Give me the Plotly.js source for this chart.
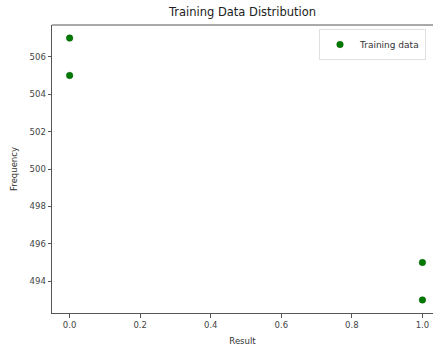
<!DOCTYPE html>
<html>
<head>
<meta charset="utf-8">
<script src="https://cdn.plot.ly/plotly-3.0.1.min.js"></script>
<style>html,body{margin:0;padding:0;background:#fff;}#chart{width:433px;height:347px;}</style>
</head>
<body>
<div id="chart"></div>
<script>
const resultValues = [0, 0, 1, 1];
const frequencyValues = [507, 505, 495, 493];
const seriesName = "Training data";
const yTicks = [494, 496, 498, 500, 502, 504, 506];
const xTicks = [0, 0.2, 0.4, 0.6, 0.8, 1.0];
const xTickLabels = ["0.0", "0.2", "0.4", "0.6", "0.8", "1.0"];

const font = "DejaVu Sans, sans-serif";
const trace = {
  x: resultValues,
  y: frequencyValues,
  mode: "markers",
  type: "scatter",
  name: seriesName,
  marker: {color: "#007a00", size: 6.5, line: {width: 0.5, color: "#005a00"}}
};
const layout = {
  width: 433, height: 347,
  margin: {l: 52, r: 0, t: 25, b: 34, pad: 0},
  paper_bgcolor: "#fff", plot_bgcolor: "#fff",
  font: {family: font, color: "#333", size: 8.5},
  title: {text: "Training Data Distribution", font: {family: font, size: 11.5, color: "#222"}, x: 0.5, xref: "paper", y: 0.965, yanchor: "middle"},
  showlegend: true,
  legend: {x: (319 - 52) / 381, xanchor: "left", y: 1 - 4 / 288, yanchor: "top",
           bgcolor: "rgba(255,255,255,0.8)", bordercolor: "#e0e0e0", borderwidth: 1,
           itemwidth: 30, tracegroupgap: 0,
           font: {family: font, size: 9, color: "#333"}},
  xaxis: {
    range: [-0.05, 1.03], tickvals: xTicks, ticktext: xTickLabels,
    showgrid: false, zeroline: false, showline: true, linecolor: "#555", linewidth: 1,
    ticks: "outside", ticklen: 3.5, tickcolor: "#555", tickfont: {size: 8.5, color: "#444"},
    title: {text: "Result", font: {size: 8.5, color: "#333"}, standoff: 9}
  },
  yaxis: {
    range: [492.3, 507.7], tickvals: yTicks,
    showgrid: false, zeroline: false, showline: true, linecolor: "#555", linewidth: 1,
    ticks: "outside", ticklen: 3.5, tickcolor: "#555", tickfont: {size: 8.5, color: "#444"},
    title: {text: "Frequency", font: {size: 8.5, color: "#333"}, standoff: 10}
  },
  shapes: [{type: "line", xref: "paper", yref: "paper", x0: 0, x1: 1, y0: 1, y1: 1, line: {color: "#555", width: 1}}]
};
Plotly.newPlot("chart", [trace], layout, {displayModeBar: false, staticPlot: true});
</script>
</body>
</html>
